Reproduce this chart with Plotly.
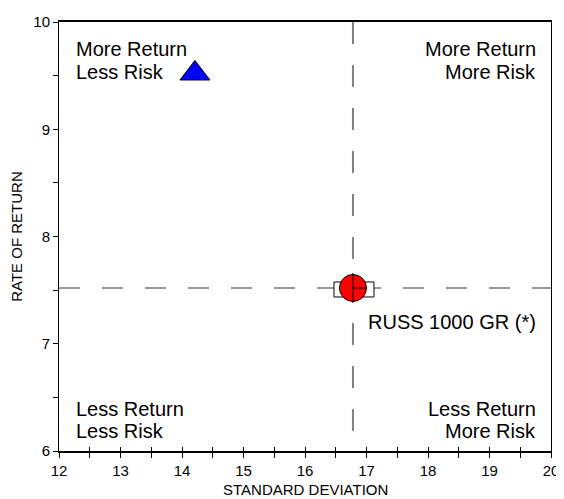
import plotly.graph_objects as go

# Data
x_range = [12, 20]
y_range = [6, 10]
bench_name = "RUSS 1000 GR (*)"
bench_sd = [16.78]
bench_ret = [7.52]
mgr_sd = [14.21]
mgr_ret = [9.52]
x_ticks = [12, 13, 14, 15, 16, 17, 18, 19, 20]
y_ticks = [6, 7, 8, 9, 10]
x_title = "STANDARD DEVIATION"
y_title = "RATE OF RETURN"
top_left_lines = ["More Return", "Less Risk"]
top_right_lines = ["More Return", "More Risk"]
bottom_left_lines = ["Less Return", "Less Risk"]
bottom_right_lines = ["Less Return", "More Risk"]

FONT = "Liberation Sans, Arial, sans-serif"

fig = go.Figure()

# Manager (blue triangle)
fig.add_trace(go.Scatter(
    x=mgr_sd, y=mgr_ret, mode="markers",
    marker=dict(symbol="triangle-up", size=26, color="#0000FF",
                line=dict(color="black", width=1)),
    showlegend=False, hoverinfo="skip"))

# Benchmark (red circle)
fig.add_trace(go.Scatter(
    x=bench_sd, y=bench_ret, mode="markers",
    marker=dict(symbol="circle", size=27, color="#FF0000",
                line=dict(color="black", width=1)),
    showlegend=False, hoverinfo="skip"))

# invisible trace for the overlay axis carrying inside ticks
fig.add_trace(go.Scatter(x=x_range, y=y_range, xaxis="x2", yaxis="y",
                         mode="markers", marker=dict(opacity=0),
                         showlegend=False, hoverinfo="skip"))

shapes = [
    # horizontal dashed quadrant line
    dict(type="line", xref="x", yref="y", x0=x_range[0], x1=x_range[1],
         y0=bench_ret[0], y1=bench_ret[0], layer="below",
         line=dict(color="#303030", width=1.2, dash="21px,22px")),
    # vertical dashed quadrant line
    dict(type="line", xref="x", yref="y", x0=bench_sd[0], x1=bench_sd[0],
         y0=y_range[1], y1=y_range[0], layer="below",
         line=dict(color="#808080", width=2, dash="22px,21px")),
    # white box behind benchmark marker
    dict(type="rect", xref="x", yref="y", xsizemode="pixel", ysizemode="pixel",
         xanchor=bench_sd[0], yanchor=bench_ret[0], x0=-19, x1=21, y0=-9, y1=6,
         fillcolor="white", line=dict(color="black", width=1), layer="below"),
    # crosshair on benchmark marker
    dict(type="line", xref="x", yref="y", xsizemode="pixel", ysizemode="pixel",
         xanchor=bench_sd[0], yanchor=bench_ret[0], x0=0, x1=0, y0=-15, y1=15,
         line=dict(color="black", width=1), layer="above"),
    dict(type="line", xref="x", yref="y", xsizemode="pixel", ysizemode="pixel",
         xanchor=bench_sd[0], yanchor=bench_ret[0], x0=0, x1=14, y0=0, y1=0,
         line=dict(color="black", width=1), layer="above"),
]

annfont = dict(family=FONT, size=20, color="black")
annotations = []


def add_lines(lines, x, xanchor, y, shifts):
    for txt, s in zip(lines, shifts):
        annotations.append(dict(xref="paper", yref="paper", x=x, y=y,
                                xanchor=xanchor, yanchor="middle", yshift=s,
                                text=txt, showarrow=False, font=annfont))


add_lines(top_left_lines, 0.03, "left", 1, [-27, -50])
add_lines(top_right_lines, 0.974, "right", 1, [-27, -50])
add_lines(bottom_left_lines, 0.03, "left", 0, [42, 20])
add_lines(bottom_right_lines, 0.974, "right", 0, [42, 20])
annotations.append(dict(xref="x", yref="y", x=bench_sd[0], y=bench_ret[0],
                        xanchor="left", yanchor="middle", xshift=13, yshift=-34,
                        text=bench_name, showarrow=False, font=annfont))
# x axis title
annotations.append(dict(xref="paper", yref="paper", x=0.5, y=0,
                        xanchor="center", yanchor="middle", yshift=-38,
                        text=x_title, showarrow=False,
                        font=dict(family=FONT, size=15, color="black")))

tickfont = dict(family=FONT, size=15, color="black")
# the page body adds an 8px offset, so the figure is sized to the remaining window
fig.update_layout(
    width=556, height=491,
    margin=dict(l=48, r=8, t=5, b=48),
    paper_bgcolor="white", plot_bgcolor="white",
    showlegend=False,
    font=dict(family=FONT, color="black"),
    shapes=shapes, annotations=annotations,
    xaxis=dict(range=x_range, tickvals=x_ticks, ticks="outside", ticklen=5,
               tickcolor="black", tickwidth=1, ticklabeloverflow="allow",
               minor=dict(dtick=0.5, ticks="outside", ticklen=5, tickcolor="black"),
               showgrid=False, zeroline=False, showline=True, linecolor="black",
               linewidth=1.5, mirror=True, tickfont=tickfont),
    xaxis2=dict(range=x_range, overlaying="x", side="bottom", tickvals=x_ticks,
                ticks="inside", ticklen=4, tickcolor="black", showticklabels=False,
                minor=dict(dtick=0.5, ticks="inside", ticklen=4, tickcolor="black"),
                showgrid=False, zeroline=False, showline=False),
    yaxis=dict(range=y_range, tickvals=y_ticks, ticks="outside", ticklen=5,
               tickcolor="black", tickwidth=1, ticklabeloverflow="allow",
               minor=dict(dtick=0.5, ticks="outside", ticklen=5, tickcolor="black"),
               showgrid=False, zeroline=False, showline=True, linecolor="black",
               linewidth=1, mirror=True, tickfont=tickfont,
               title=dict(text=y_title, font=dict(family=FONT, size=15),
                          standoff=10)),
)

fig.write_html("out.html")
